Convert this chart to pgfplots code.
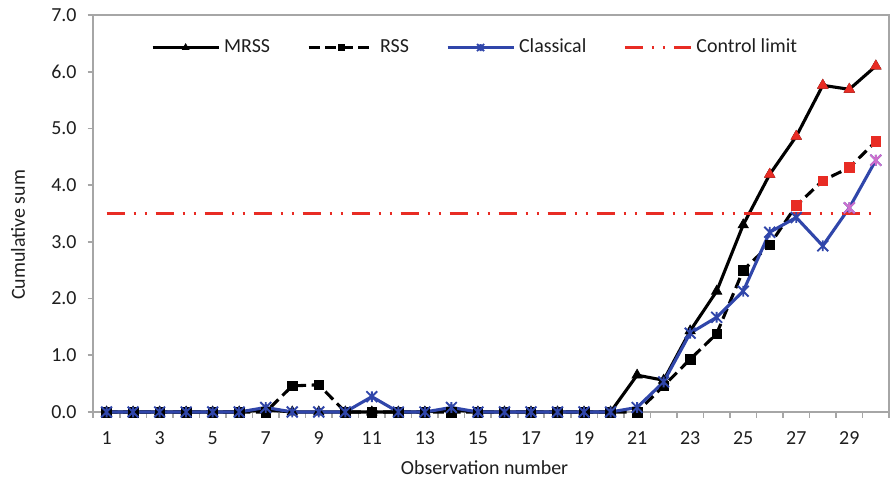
\documentclass[border=0pt]{standalone}
\usepackage{pgfplots}
\usepackage{pgfplotstable}
\pgfplotsset{compat=1.18}
\usepackage{fontspec}
\setmainfont{Carlito}

\definecolor{axisgray}{RGB}{166,166,166}
\definecolor{clblue}{RGB}{48,70,170}
\definecolor{limred}{RGB}{232,44,36}
\definecolor{hipink}{RGB}{206,110,206}
\definecolor{txt}{RGB}{30,30,30}

% X with a vertical stroke through it
\pgfdeclareplotmark{xstar}{%
  \pgfpathmoveto{\pgfqpoint{-\pgfplotmarksize}{-\pgfplotmarksize}}%
  \pgfpathlineto{\pgfqpoint{\pgfplotmarksize}{\pgfplotmarksize}}%
  \pgfpathmoveto{\pgfqpoint{-\pgfplotmarksize}{\pgfplotmarksize}}%
  \pgfpathlineto{\pgfqpoint{\pgfplotmarksize}{-\pgfplotmarksize}}%
  \pgfpathmoveto{\pgfqpoint{0pt}{-\pgfplotmarksize}}%
  \pgfpathlineto{\pgfqpoint{0pt}{\pgfplotmarksize}}%
  \pgfusepathqstroke}

% cumulative sums per observation
\pgfplotstableread{
obs mrss rss classical limit
1  0    0    0    3.5
2  0    0    0    3.5
3  0    0    0    3.5
4  0    0    0    3.5
5  0    0    0    3.5
6  0    0    0    3.5
7  0.04 0    0.08 3.5
8  0    0.46 0    3.5
9  0    0.48 0    3.5
10 0    0    0    3.5
11 0    0    0.27 3.5
12 0    0    0    3.5
13 0    0    0    3.5
14 0.04 0    0.08 3.5
15 0    0    0    3.5
16 0    0    0    3.5
17 0    0    0    3.5
18 0    0    0    3.5
19 0    0    0    3.5
20 0    0    0    3.5
21 0.65 0    0.08 3.5
22 0.56 0.46 0.53 3.5
23 1.43 0.93 1.39 3.5
24 2.13 1.38 1.67 3.5
25 3.30 2.50 2.13 3.5
26 4.19 2.95 3.17 3.5
27 4.86 3.64 3.43 3.5
28 5.76 4.08 2.93 3.5
29 5.69 4.31 3.60 3.5
30 6.10 4.77 4.44 3.5
}\cusum

\begin{document}
\begin{tikzpicture}
\begin{axis}[
  at={(0,0)}, anchor=south west,
  scale only axis, width=397.9bp, height=198.5bp,
  xmin=0.5, xmax=30.5, ymin=0, ymax=7,
  clip=false,
  font=\fontsize{10}{12}\selectfont,
  /pgf/number format/assume math mode=true,
  xtick={1,3,...,29},
  minor xtick={0.5,1.5,...,30.5},
  ytick={0,1,...,7},
  minor ytick={0,1,...,7},
  tick pos=left,
  tick align=outside,
  major tick length=0pt,
  minor tick length=2.8bp,
  axis line style={axisgray, line width=0.8bp},
  every tick/.style={axisgray, line width=0.8bp},
  every minor tick/.style={axisgray, line width=0.8bp},
  yticklabel={\pgfmathprintnumber[fixed,fixed zerofill,precision=1]{\tick}},
  yticklabel style={anchor=east, inner sep=0pt, xshift=-8.2bp, text=txt},
  xticklabel style={anchor=center, inner sep=0pt, yshift=-13.25bp, text=txt},
  xlabel={Observation number},
  ylabel={Cumulative sum},
  xlabel style={at={(axis description cs:0.4917,0)}, anchor=center, yshift=-28bp, text=txt},
  ylabel style={at={(axis description cs:-0.0945,0.446)}, anchor=center, text=txt},
  legend columns=4,
  legend style={draw=none, fill=none, at={(rel axis cs:0.481,0.918)}, anchor=center,
    text=txt, font=\fontsize{10}{12}\selectfont,
    /tikz/every even column/.append style={column sep=16.5bp}},
  legend image code/.code={\draw[mark repeat=2,mark phase=2, every mark/.append style={scale=0.65}]
    plot coordinates {(0bp,0bp) (16.5bp,0bp) (33bp,0bp)};},
  every axis plot/.append style={line width=1.55bp},
]
\addplot[black, mark=triangle*, mark size=3bp, mark options={solid, line width=0.3bp}]
  table[x=obs, y=mrss] {\cusum};
\addlegendentry{MRSS}
\addplot[black, dash pattern=on 5.5bp off 2.8bp, mark=square*, mark size=2.4bp, mark options={solid, line width=0.3bp}]
  table[x=obs, y=rss] {\cusum};
\addlegendentry{RSS}
\addplot[clblue, mark=xstar, mark size=2.7bp, mark options={solid, line width=0.95bp}]
  table[x=obs, y=classical] {\cusum};
\addlegendentry{Classical}
\addplot[limred, line cap=butt, dash pattern=on 9bp off 4.5bp on 1bp off 4.5bp on 1bp off 4.5bp]
  table[x=obs, y=limit] {\cusum};
\addlegendentry{Control limit}
% points beyond the control limit
\addplot[forget plot, only marks, limred, mark=triangle*, mark size=3bp, mark options={line width=0.3bp},
  restrict x to domain=26:30] table[x=obs, y=mrss] {\cusum};
\addplot[forget plot, only marks, limred, mark=square*, mark size=2.4bp, mark options={line width=0.3bp},
  restrict x to domain=27:30] table[x=obs, y=rss] {\cusum};
\addplot[forget plot, only marks, hipink, mark=xstar, mark size=2.7bp, mark options={line width=0.95bp},
  restrict x to domain=29:30] table[x=obs, y=classical] {\cusum};
\end{axis}
\pgfresetboundingbox
\path[use as bounding box] (-46.65bp,-34.5bp) rectangle (398.85bp,206bp);
\end{tikzpicture}
\end{document}
